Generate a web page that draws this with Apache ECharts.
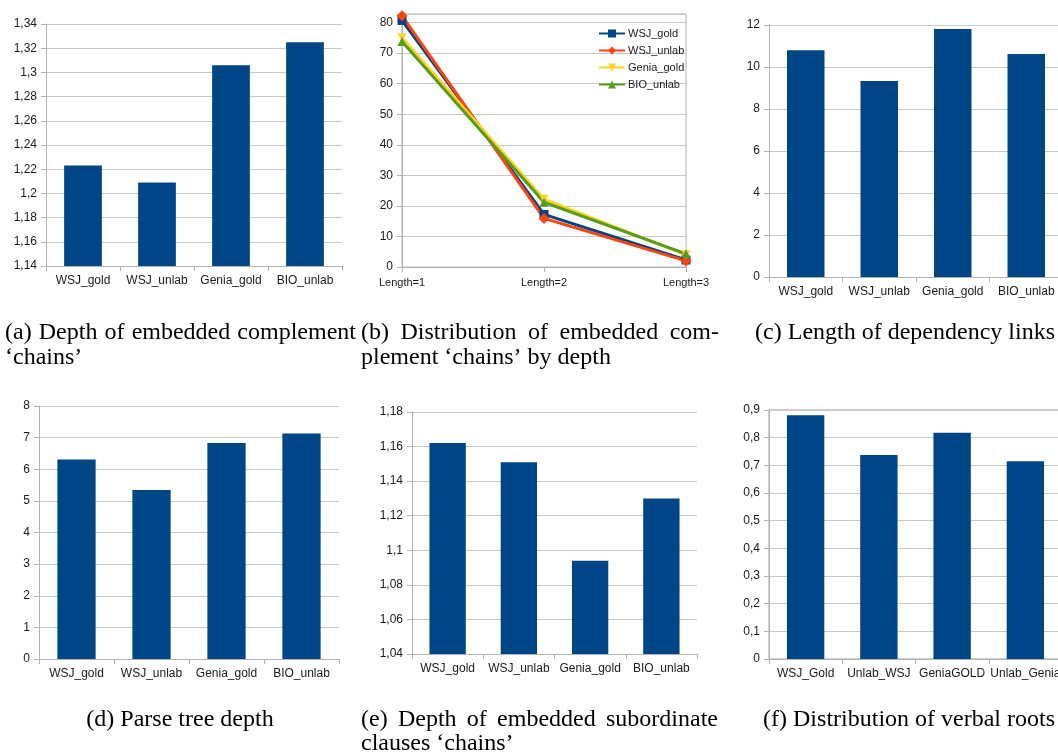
<!DOCTYPE html>
<html><head><meta charset="utf-8">
<script src="https://cdn.jsdelivr.net/npm/echarts@6/dist/echarts.min.js"></script>
<style>html,body{margin:0;padding:0;background:#fff}#c{width:1058px;height:754px}</style>
</head><body><div id="c"></div>
<script>
// ---------- data ----------
const barCategories = ['WSJ_gold', 'WSJ_unlab', 'Genia_gold', 'BIO_unlab'];
const rootCategories = ['WSJ_Gold', 'Unlab_WSJ', 'GeniaGOLD', 'Unlab_Genia'];
const lengthCategories = ['Length=1', 'Length=2', 'Length=3'];
const complementDepth = [1.223, 1.209, 1.306, 1.325];
const depLinkLength = [10.8, 9.33, 11.81, 10.62];
const parseTreeDepth = [6.31, 5.34, 6.83, 7.13];
const subordDepth = [1.162, 1.151, 1.094, 1.130];
const verbalRoots = [0.881, 0.737, 0.818, 0.715];
const wsjGold = [80.7, 17.2, 2.3];
const wsjUnlab = [82.2, 15.9, 2.0];
const geniaGold = [75.0, 22.2, 4.0];
const bioUnlab = [73.8, 21.2, 4.3];
const lineNames = ['WSJ_gold', 'WSJ_unlab', 'Genia_gold', 'BIO_unlab'];

// ---------- styling ----------
const AX = '#b3b3b3', GRIDC = '#c8c8c8', TXT = '#1a1a1a', BLUE = '#004586';
const SANS = '"Liberation Sans", Arial, sans-serif';
const fmt = v => String(+(+v).toFixed(2)).replace('.', ',');

const grids = [
  {left: 46, top: 24, width: 296, height: 242},
  {left: 402, top: 14, width: 284, height: 253, show: true, borderColor: AX, borderWidth: 1, backgroundColor: 'transparent'},
  {left: 769, top: 25, width: 294, height: 252},
  {left: 39, top: 406, width: 300, height: 253},
  {left: 412, top: 412, width: 285, height: 242},
  {left: 769, top: 410, width: 293, height: 249, show: true, borderColor: '#a0a0a0', borderWidth: 1, backgroundColor: 'transparent'}
].map(g => Object.assign({outerBoundsMode: 'none', containLabel: false}, g));

function xCat(i, data, extra) {
  return Object.assign({
    type: 'category', gridIndex: i, data: data, boundaryGap: true,
    axisLine: {show: true, lineStyle: {color: AX}},
    axisTick: {show: true, length: 5, lineStyle: {color: AX}},
    axisLabel: {color: TXT, fontSize: 12, fontFamily: SANS, margin: 9, interval: 0},
    splitLine: {show: false}
  }, extra || {});
}
function yVal(i, min, max, interval, formatter) {
  return {
    type: 'value', gridIndex: i, min: min, max: max, interval: interval,
    axisLine: {show: true, lineStyle: {color: AX}},
    axisTick: {show: true, length: 5, lineStyle: {color: AX}},
    axisLabel: {color: TXT, fontSize: 12, fontFamily: SANS, margin: 9, formatter: formatter || fmt},
    splitLine: {show: true, lineStyle: {color: GRIDC}}
  };
}

const xAxes = [
  xCat(0, barCategories),
  xCat(1, lengthCategories, {boundaryGap: false, axisLabel: {color: TXT, fontSize: 11, fontFamily: SANS, margin: 10, interval: 0}}),
  xCat(2, barCategories),
  xCat(3, barCategories),
  xCat(4, barCategories),
  xCat(5, rootCategories)
];
const yAxes = [
  yVal(0, 1.14, 1.34, 0.02),
  yVal(1, 0, 82.8, 10, v => (Math.abs(v % 10) < 1e-6 ? String(v) : '')),
  yVal(2, 0, 12, 2),
  yVal(3, 0, 8, 1),
  yVal(4, 1.04, 1.18, 0.02),
  yVal(5, 0, 0.9, 0.1)
];

function bar(i, data) {
  return {type: 'bar', xAxisIndex: i, yAxisIndex: i, data: data, barWidth: '51%',
    itemStyle: {color: BLUE}, silent: true};
}
const lineColors = ['#004586', '#ff420e', '#ffd320', '#579d1c'];
const lineSymbols = ['rect', 'diamond', 'triangle', 'triangle'];
const lineRot = [0, 0, 180, 0];
const lineData = [wsjGold, wsjUnlab, geniaGold, bioUnlab];
const lineSeries = lineNames.map((n, k) => ({
  type: 'line', name: n, xAxisIndex: 1, yAxisIndex: 1, data: lineData[k],
  symbol: lineSymbols[k], symbolRotate: lineRot[k], symbolSize: k === 1 ? 11 : 9,
  lineStyle: {width: 3, color: lineColors[k]}, itemStyle: {color: lineColors[k]},
  silent: true
}));

// ---------- captions ----------
const CAP_SIZE = 24, CAP_SX = 1;
const capFont = CAP_SIZE + 'px "Liberation Serif", "Times New Roman", serif';
const mctx = document.createElement('canvas').getContext('2d');
mctx.font = capFont;
const tw = t => mctx.measureText(t).width * CAP_SX;
function textEl(t, x, y) {
  return {type: 'text', x: x, y: y, scaleX: CAP_SX, silent: true,
    style: {text: t, font: capFont, fill: '#000', textAlign: 'left', textVerticalAlign: 'middle', align: 'left', verticalAlign: 'middle'}};
}
function justified(words, x0, x1, y) {
  const total = words.reduce((s, t) => s + tw(t), 0);
  const gap = (x1 - x0 - total) / (words.length - 1);
  let x = x0;
  return words.map(t => { const e = textEl(t, x, y); x += tw(t) + gap; return e; });
}
const capC = '(c) Length of dependency links';
const capD = '(d) Parse tree depth';
const capF = '(f) Distribution of verbal roots';
const captions = [].concat(
  justified(['(a)', 'Depth', 'of', 'embedded', 'complement'], 5, 356, 333),
  [textEl('\u2018chains\u2019', 5, 358)],
  justified(['(b)', 'Distribution', 'of', 'embedded', 'com-'], 361, 719, 333),
  [textEl('plement \u2018chains\u2019 by depth', 361, 358)],
  [textEl(capC, 1055 - tw(capC), 333)],
  [textEl(capD, 180 - tw(capD) / 2, 720)],
  justified(['(e)', 'Depth', 'of', 'embedded', 'subordinate'], 361, 718, 720),
  [textEl('clauses \u2018chains\u2019', 361, 744)],
  [textEl(capF, 1055 - tw(capF), 720)]
);

const chart = echarts.init(document.getElementById('c'), null, {renderer: 'canvas'});
chart.setOption({
  backgroundColor: '#fff',
  animation: false,
  grid: grids,
  xAxis: xAxes,
  yAxis: yAxes,
  legend: {
    data: lineNames, orient: 'vertical', left: 593, top: 23,
    itemWidth: 26, itemHeight: 10, itemGap: 6, selectedMode: false,
    textStyle: {fontSize: 11, color: TXT, fontFamily: SANS, padding: [0, 0, 0, -2]}
  },
  series: [
    bar(0, complementDepth),
    bar(2, depLinkLength),
    bar(3, parseTreeDepth),
    bar(4, subordDepth),
    bar(5, verbalRoots)
  ].concat(lineSeries),
  graphic: {elements: captions}
});
</script></body></html>
